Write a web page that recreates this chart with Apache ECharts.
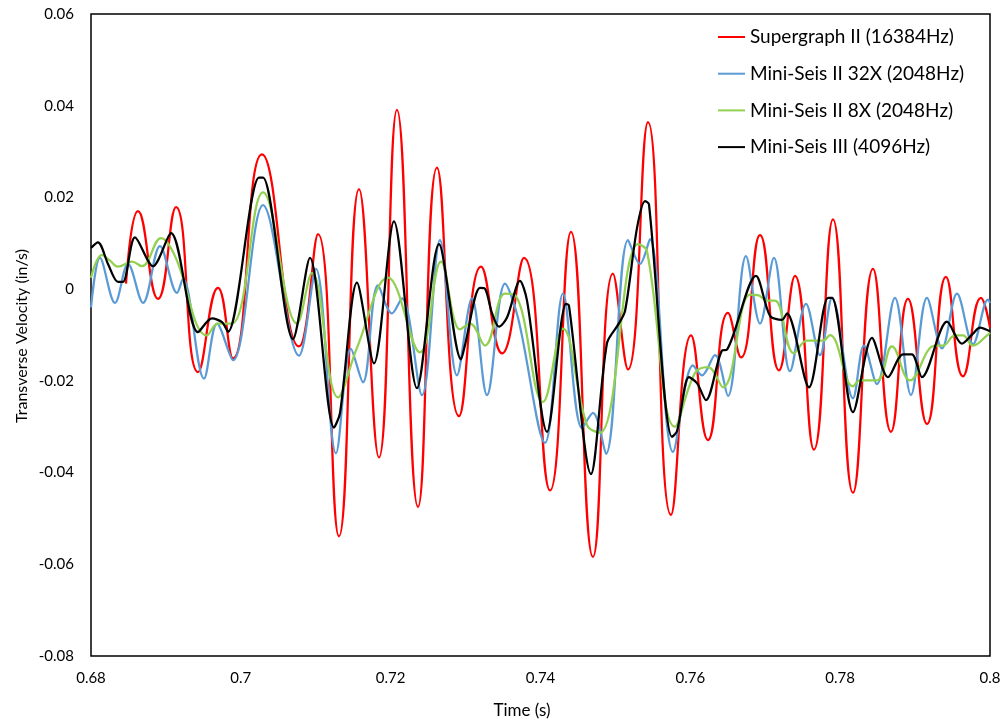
<!DOCTYPE html>
<html>
<head>
<meta charset="utf-8">
<script src="https://cdn.jsdelivr.net/npm/echarts@6/dist/echarts.min.js"></script>
<style>html,body{margin:0;padding:0;background:#fff}#c{width:1005px;height:727px}</style>
</head>
<body>
<div id="c"></div>
<script>
const xTicks = [0.68, 0.8, 0.02];
const yTicks = [-0.08, 0.06, 0.02];
const xTitle = 'Time (s)';
const yTitle = 'Transverse Velocity (in/s)';
const seriesNames = ['Supergraph II (16384Hz)', 'Mini-Seis II 32X (2048Hz)', 'Mini-Seis II 8X (2048Hz)', 'Mini-Seis III (4096Hz)'];

const redT = [0.68467,0.68627,0.68894,0.69135,0.69428,0.69695,0.69895,0.70282,0.70776,0.7103,0.7131,0.71577,0.71844,0.72084,0.72365,0.72618,0.72912,0.73206,0.73486,0.7378,0.74127,0.74407,0.747,0.74967,0.75168,0.75435,0.75742,0.76009,0.76235,0.76502,0.76676,0.7693,0.77183,0.77397,0.7765,0.77904,0.78171,0.78438,0.78678,0.78905,0.79159,0.79412,0.79639,0.79879,0.8];
const redV = [0.0012,0.0170,-0.0021,0.0179,-0.0181,0.0003,-0.0151,0.0294,-0.0125,0.0120,-0.0539,0.0218,-0.0367,0.0391,-0.0475,0.0265,-0.0277,0.0049,-0.0140,0.0068,-0.0439,0.0125,-0.0584,0.0034,-0.0175,0.0364,-0.0492,-0.0101,-0.0329,-0.0052,-0.0149,0.0118,-0.0177,0.0029,-0.0350,0.0152,-0.0444,0.0044,-0.0311,-0.0021,-0.0294,0.0027,-0.0190,-0.0019,-0.0084];

const blueT = [0.68,0.6812,0.6832,0.68494,0.68694,0.68921,0.69148,0.69228,0.69508,0.69682,0.69895,0.70296,0.70776,0.71003,0.7127,0.7147,0.7163,0.71831,0.72018,0.72151,0.72418,0.72658,0.72885,0.73085,0.73286,0.73526,0.73699,0.7406,0.743,0.74554,0.747,0.74874,0.75168,0.75328,0.75461,0.75768,0.76035,0.76155,0.76329,0.76502,0.76743,0.7693,0.77116,0.7733,0.77544,0.7773,0.77891,0.78171,0.78318,0.78491,0.78731,0.78945,0.79159,0.79359,0.79559,0.79773,0.79973,0.8];
const blueV = [-0.0040,0.0068,-0.0030,0.0055,-0.0030,0.0094,-0.0008,0.0023,-0.0195,-0.0075,-0.0155,0.0183,-0.0145,0.0044,-0.0358,-0.0130,-0.0203,0.0008,-0.0053,-0.0020,-0.0231,0.0107,-0.0188,-0.0020,-0.0231,0.0012,-0.0062,-0.0335,-0.0010,-0.0303,-0.0270,-0.0359,0.0107,0.0055,0.0109,-0.0355,-0.0166,-0.0188,-0.0144,-0.0233,0.0072,-0.0075,0.0068,-0.0179,-0.0032,-0.0144,-0.0019,-0.0238,-0.0123,-0.0207,-0.0019,-0.0231,-0.0019,-0.0129,-0.0010,-0.0120,-0.0023,-0.0030];

const greenT = [0.68,0.68147,0.68254,0.6836,0.68547,0.68681,0.68934,0.69121,0.69548,0.69695,0.69882,0.70296,0.7075,0.7095,0.71297,0.7155,0.71964,0.72391,0.72672,0.72925,0.73059,0.73259,0.73526,0.73659,0.74033,0.743,0.7462,0.74794,0.75301,0.75421,0.75795,0.76062,0.76235,0.76436,0.76796,0.76903,0.77023,0.7713,0.77383,0.77557,0.7777,0.77864,0.78171,0.78264,0.78491,0.78691,0.78932,0.79265,0.79372,0.79532,0.79639,0.79773,0.79973,0.8];
const greenV = [0.0025,0.0075,0.0062,0.0049,0.0060,0.0050,0.0111,0.0072,-0.0101,-0.0075,-0.0075,0.0211,-0.0075,0.0035,-0.0236,-0.0128,0.0025,-0.0138,0.0060,-0.0088,-0.0075,-0.0123,-0.0010,-0.0013,-0.0246,-0.0086,-0.0296,-0.0313,0.0098,0.0083,-0.0300,-0.0183,-0.0170,-0.0214,-0.0012,-0.0013,-0.0025,-0.0025,-0.0140,-0.0112,-0.0112,-0.0100,-0.0212,-0.0199,-0.0199,-0.0125,-0.0199,-0.0123,-0.0123,-0.0101,-0.0101,-0.0123,-0.0099,-0.0095];

const blackT = [0.68,0.68093,0.68227,0.6836,0.68427,0.68587,0.68828,0.69068,0.69428,0.69615,0.69749,0.69829,0.70242,0.70296,0.70696,0.70923,0.71243,0.71324,0.7155,0.71777,0.72044,0.72351,0.72645,0.72939,0.72992,0.73192,0.73259,0.73352,0.73446,0.73553,0.73726,0.7382,0.74087,0.7434,0.7438,0.74674,0.74887,0.75034,0.75128,0.75288,0.75395,0.75448,0.75755,0.75822,0.75982,0.76089,0.76209,0.76422,0.76489,0.76876,0.77063,0.77223,0.7729,0.77584,0.77837,0.77891,0.78171,0.78424,0.78638,0.78838,0.78958,0.79092,0.79426,0.79626,0.79773,0.79866,0.8];
const blackV = [0.0090,0.0102,0.0055,0.0016,0.0016,0.0113,0.0050,0.0122,-0.0094,-0.0064,-0.0072,-0.0093,0.0243,0.0243,-0.0109,0.0068,-0.0302,-0.0270,0.0014,-0.0162,0.0148,-0.0216,0.0098,-0.0153,-0.0122,0.0003,0.0001,-0.0052,-0.0082,-0.0062,0.0018,-0.0025,-0.0311,-0.0032,-0.0036,-0.0403,-0.0118,-0.0078,-0.0048,0.0133,0.0192,0.0185,-0.0322,-0.0310,-0.0192,-0.0205,-0.0242,-0.0134,-0.0132,0.0029,-0.0058,-0.0067,-0.0053,-0.0214,-0.0019,-0.0019,-0.0268,-0.0106,-0.0192,-0.0142,-0.0142,-0.0192,-0.0071,-0.0119,-0.0097,-0.0084,-0.0092];

const colors = ['#FF0000', '#5B9BD5', '#92D050', '#000000'];
const zip = (t, v) => t.map((x, i) => [x, v[i]]);
const FONT = 'Lato';
const fmt = v => String(+(+v).toFixed(2));

const chart = echarts.init(document.getElementById('c'), null, {renderer: 'canvas'});
const mk = (i, t, v, smooth) => ({
  name: seriesNames[i], type: 'line', data: zip(t, v), smooth: smooth,
  symbol: 'none', showSymbol: false,
  lineStyle: {color: colors[i], width: 2.25}, itemStyle: {color: colors[i]},
  z: 2 + i, animation: false
});
chart.setOption({
  backgroundColor: '#fff',
  animation: false,
  grid: {left: 91, right: 15, top: 14, bottom: 71, show: true, borderColor: '#000', borderWidth: 1.5, backgroundColor: 'transparent'},
  legend: {
    data: seriesNames, orient: 'vertical', left: 713, top: 22,
    icon: 'rect', itemWidth: 27, itemHeight: 2, itemGap: 16.7,
    textStyle: {fontFamily: FONT, fontSize: 19, color: '#000', lineHeight: 20}
  },
  graphic: [
    {type: 'text', x: 22, y: 336, rotation: Math.PI / 2,
     style: {text: yTitle, fontFamily: FONT, fontSize: 16, fill: '#000', align: 'center', verticalAlign: 'middle'}},
    {type: 'text', x: 522, y: 711,
     style: {text: xTitle, fontFamily: FONT, fontSize: 17, fill: '#000', align: 'center', verticalAlign: 'middle'}}
  ],
  xAxis: {
    type: 'value', min: xTicks[0], max: xTicks[1], interval: xTicks[2],
    axisLine: {show: false}, axisTick: {show: false}, splitLine: {show: false},
    axisLabel: {fontFamily: FONT, fontSize: 15, color: '#000', margin: 15, formatter: fmt}
  },
  yAxis: {
    type: 'value', min: yTicks[0], max: yTicks[1], interval: yTicks[2],
    axisLine: {show: false}, axisTick: {show: false}, splitLine: {show: false},
    axisLabel: {fontFamily: FONT, fontSize: 15, color: '#000', margin: 17, formatter: fmt}
  },
  series: [
    mk(0, redT, redV, 0.5),
    mk(1, blueT, blueV, 0.35),
    mk(2, greenT, greenV, 0.4),
    mk(3, blackT, blackV, 0.3)
  ]
});
</script>
</body>
</html>
